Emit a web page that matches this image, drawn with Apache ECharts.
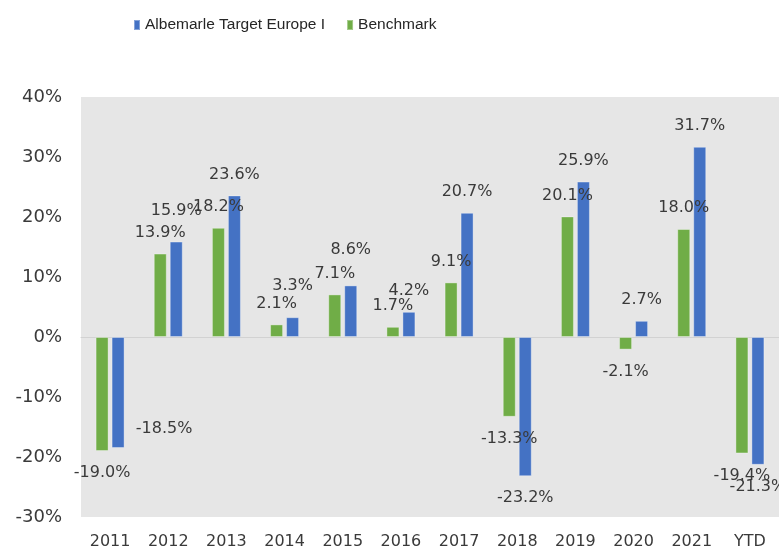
<!DOCTYPE html>
<html>
<head>
<meta charset="utf-8">
<script src="https://cdn.jsdelivr.net/npm/echarts@6/dist/echarts.min.js"></script>
<style>html,body{margin:0;padding:0;background:#fff;}#c{width:779px;height:551px;}</style>
</head>
<body>
<div id="c"></div>
<script>
const categories = ['2011','2012','2013','2014','2015','2016','2017','2018','2019','2020','2021','YTD'];
const albemarle = [-18.5, 15.9, 23.6, 3.3, 8.6, 4.2, 20.7, -23.2, 25.9, 2.7, 31.7, -21.3];
const benchmark = [-19.0, 13.9, 18.2, 2.1, 7.1, 1.7, 9.1, -13.3, 20.1, -2.1, 18.0, -19.4];
const yTicks = {min: -30, max: 40, interval: 10};

// per-point label nudges (as in the original, where some labels were moved)
const albLabelNudge = {0: [46, -41], 1: [0, -10], 3: [0, -10], 4: [0, -15]};
const benLabelNudge = {};

const labelFont = {fontFamily: 'DejaVu Sans', fontSize: 16, color: '#3a3a3a'};

function build(values, nudges) {
  return values.map((v, i) => ({
    value: v,
    label: {
      position: v >= 0 ? 'top' : 'bottom',
      distance: v >= 0 ? 13 : 14,
      offset: nudges[i] || [0, 0]
    }
  }));
}

const chart = echarts.init(document.getElementById('c'), null, {renderer: 'canvas'});
chart.setOption({
  animation: false,
  backgroundColor: '#ffffff',
  legend: {
    left: 133, top: 17, padding: 0,
    itemWidth: 6, itemHeight: 10, itemGap: 21,
    icon: 'rect',
    data: ['Albemarle Target Europe I', 'Benchmark'],
    textStyle: {fontFamily: 'Liberation Sans', fontSize: 15.5, color: '#262626'}
  },
  grid: {
    left: 81, right: 0, top: 97, bottom: 34,
    show: true, backgroundColor: '#e6e6e6', borderWidth: 0
  },
  xAxis: {
    type: 'category',
    data: categories,
    axisLine: {onZero: true, lineStyle: {color: '#d2d2d2', width: 1}},
    axisTick: {show: false},
    axisLabel: {
      interval: 0,
      fontFamily: 'DejaVu Sans', fontSize: 16, color: '#3a3a3a', margin: 17
    },
    position: 'bottom'
  },
  yAxis: {
    type: 'value',
    min: yTicks.min, max: yTicks.max, interval: yTicks.interval,
    splitLine: {show: false},
    axisLine: {show: false},
    axisTick: {show: false},
    axisLabel: {
      formatter: '{value}%',
      fontFamily: 'DejaVu Sans', fontSize: 18, color: '#3a3a3a', margin: 19
    }
  },
  series: [
    {
      name: 'Benchmark',
      type: 'bar',
      barWidth: 13,
      barGap: '23%',
      itemStyle: {color: '#70AD47', borderColor: 'rgba(255,255,255,0.35)', borderWidth: 1},
      label: Object.assign({show: true, formatter: p => p.value.toFixed(1) + '%'}, labelFont),
      data: build(benchmark, benLabelNudge)
    },
    {
      name: 'Albemarle Target Europe I',
      type: 'bar',
      barWidth: 13,
      barGap: '23%',
      itemStyle: {color: '#4472C4', borderColor: 'rgba(255,255,255,0.35)', borderWidth: 1},
      label: Object.assign({show: true, formatter: p => p.value.toFixed(1) + '%'}, labelFont),
      data: build(albemarle, albLabelNudge)
    }
  ]
});
</script>
</body>
</html>
